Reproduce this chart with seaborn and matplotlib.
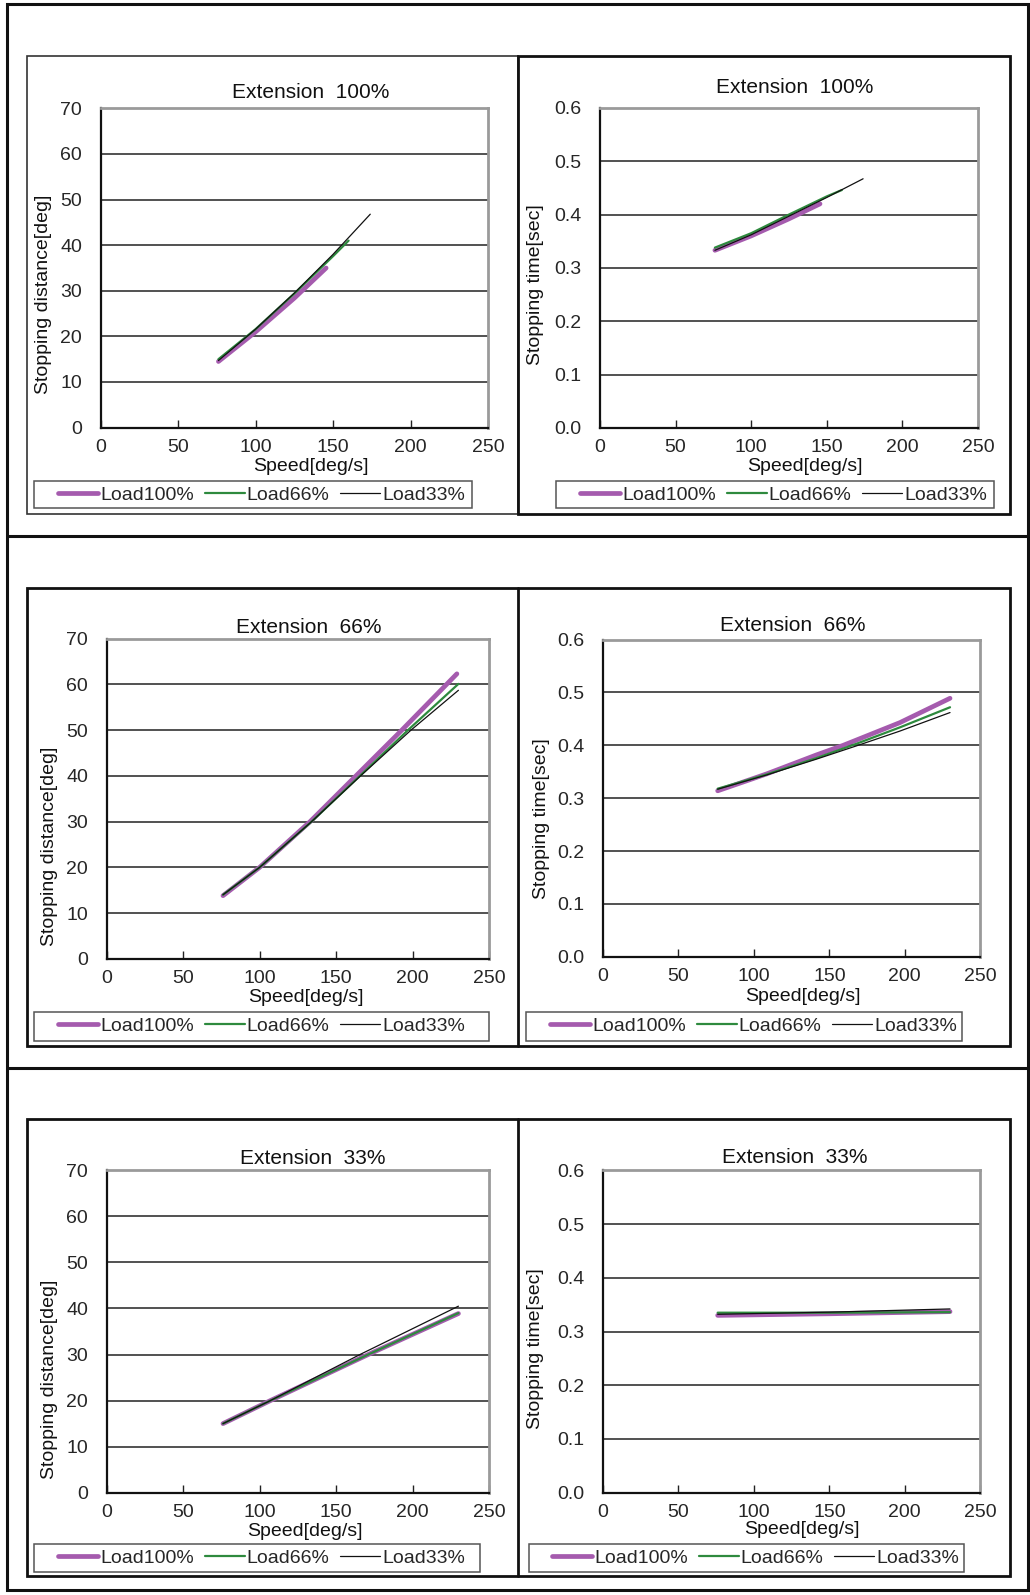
import matplotlib
matplotlib.use("Agg")
import matplotlib.pyplot as plt
import seaborn as sns
import pandas as pd
from matplotlib.patches import Rectangle
from matplotlib.lines import Line2D
from matplotlib.ticker import FormatStrFormatter

# ---------------- data ----------------
series_names = ["Load100%", "Load66%", "Load33%"]

# Extension 100% - stopping distance [deg]
e100_dist_x100 = [76, 100, 125, 145.5]
e100_dist_y100 = [14.5, 21.0, 28.4, 35.0]
e100_dist_x66 = [76, 100, 125, 150, 160]
e100_dist_y66 = [15.0, 21.6, 29.4, 37.6, 41.0]
e100_dist_x33 = [76, 100, 125, 150, 174]
e100_dist_y33 = [14.7, 21.6, 29.5, 38.0, 46.8]

# Extension 100% - stopping time [sec]
e100_time_x100 = [76, 100, 125, 145.5]
e100_time_y100 = [0.333, 0.360, 0.392, 0.420]
e100_time_x66 = [76, 100, 125, 150, 160]
e100_time_y66 = [0.338, 0.365, 0.400, 0.434, 0.446]
e100_time_x33 = [76, 100, 125, 150, 174]
e100_time_y33 = [0.333, 0.362, 0.397, 0.432, 0.467]

# Extension 66% - stopping distance [deg]
e66_dist_x100 = [76, 100, 133, 163, 193, 229]
e66_dist_y100 = [13.8, 20.0, 30.0, 40.0, 50.0, 62.3]
e66_dist_x66 = [76, 100, 134, 165.6, 197, 230]
e66_dist_y66 = [14.0, 20.0, 30.0, 40.0, 50.0, 60.1]
e66_dist_x33 = [76, 100, 134, 166, 199, 230]
e66_dist_y33 = [14.0, 20.0, 30.0, 40.0, 50.0, 58.7]

# Extension 66% - stopping time [sec]
e66_time_x100 = [76, 108.5, 141.6, 159.2, 196.8, 230]
e66_time_y100 = [0.314, 0.346, 0.382, 0.400, 0.443, 0.489]
e66_time_x66 = [76, 108.5, 141.6, 168, 196.8, 230]
e66_time_y66 = [0.318, 0.345, 0.376, 0.403, 0.434, 0.472]
e66_time_x33 = [76, 108.5, 141.6, 168, 196.8, 230]
e66_time_y33 = [0.317, 0.344, 0.374, 0.399, 0.427, 0.462]

# Extension 33% - stopping distance [deg]
e33_dist_x100 = [76, 107, 171, 230]
e33_dist_y100 = [15.0, 20.0, 30.0, 38.9]
e33_dist_x66 = [76, 107, 171, 230]
e33_dist_y66 = [15.0, 20.0, 30.0, 39.0]
e33_dist_x33 = [76, 107, 165.6, 230]
e33_dist_y33 = [15.0, 20.0, 30.0, 40.5]

# Extension 33% - stopping time [sec]
e33_time_x100 = [76, 150, 230]
e33_time_y100 = [0.330, 0.333, 0.337]
e33_time_x66 = [76, 150, 230]
e33_time_y66 = [0.335, 0.335, 0.336]
e33_time_x33 = [76, 150, 230]
e33_time_y33 = [0.332, 0.336, 0.342]

titles = ["Extension  100%", "Extension  66%", "Extension  33%"]
xlabel = "Speed[deg/s]"
ylabel_dist = "Stopping distance[deg]"
ylabel_time = "Stopping time[sec]"

# ---------------- style ----------------
sns.set_theme(style="white")
plt.rcParams["font.family"] = ["Liberation Sans", "DejaVu Sans"]
FS = 14

colors = {"Load100%": "#A55BAE", "Load66%": "#2E8A3E", "Load33%": "#111111"}
widths = {"Load100%": 3.4, "Load66%": 1.6, "Load33%": 0.9}

W, H = 1030, 1595
fig = plt.figure(figsize=(W / 100, H / 100), dpi=100)
fig.patch.set_facecolor("white")


def fx(x):
    return x / W


def fy(y):
    return 1 - y / H


def add_rect(x0, y0, x1, y1, lw, color):
    fig.add_artist(Rectangle((fx(x0), fy(y1)), fx(x1) - fx(x0), fy(y0) - fy(y1),
                             transform=fig.transFigure, fill=False, lw=lw,
                             edgecolor=color, zorder=0))


def add_line(x0, y0, x1, y1, lw, color):
    fig.add_artist(Line2D([fx(x0), fx(x1)], [fy(y0), fy(y1)],
                          transform=fig.transFigure, lw=lw, color=color, zorder=0))


# outer table and chart frames
add_rect(7, 4, 1028, 1590, 2.2, "#111111")
add_line(7, 536, 1028, 536, 2.2, "#111111")
add_line(7, 1068, 1028, 1068, 2.2, "#111111")
add_rect(26.5, 56, 517.5, 513.5, 1.2, "#333333")
add_rect(517.5, 56, 1010, 513.5, 2.0, "#111111")
add_rect(27, 588, 1010, 1046, 2.0, "#111111")
add_line(518, 588, 518, 1046, 2.0, "#111111")
add_rect(27, 1119, 1010, 1576, 2.0, "#111111")
add_line(518, 1119, 518, 1576, 2.0, "#111111")

panels = [
    dict(box=(100.7, 108.4, 488, 427.6), kind="dist", title=titles[0], tx=0.543, tdy=16,
         ylo=(-57, -26), xlab=(311, 466.7), leg=(33.5, 481, 471.8, 508.4), legx=58,
         data=[(e100_dist_x100, e100_dist_y100), (e100_dist_x66, e100_dist_y66), (e100_dist_x33, e100_dist_y33)]),
    dict(box=(600, 107.8, 978, 428), kind="time", title=titles[0], tx=0.516, tdy=20,
         ylo=(-64, -17), xlab=(805, 466.7), leg=(556, 481, 994.4, 508.4), legx=580,
         data=[(e100_time_x100, e100_time_y100), (e100_time_x66, e100_time_y66), (e100_time_x33, e100_time_y33)]),
    dict(box=(106.8, 638.6, 489, 958.8), kind="dist", title=titles[1], tx=0.529, tdy=11,
         ylo=(-57, -48), xlab=(306, 997.5), leg=(33.5, 1011.7, 489, 1041), legx=58,
         data=[(e66_dist_x100, e66_dist_y100), (e66_dist_x66, e66_dist_y66), (e66_dist_x33, e66_dist_y33)]),
    dict(box=(603, 639.6, 980.2, 956.8), kind="time", title=titles[1], tx=0.504, tdy=14,
         ylo=(-61, -20), xlab=(803, 996.5), leg=(525.7, 1011.7, 962, 1041), legx=550,
         data=[(e66_time_x100, e66_time_y100), (e66_time_x66, e66_time_y66), (e66_time_x33, e66_time_y33)]),
    dict(box=(106.8, 1170.3, 489, 1492.7), kind="dist", title=titles[2], tx=0.54, tdy=12,
         ylo=(-57, -48), xlab=(305, 1531), leg=(33.5, 1543.5, 480, 1572), legx=58,
         data=[(e33_dist_x100, e33_dist_y100), (e33_dist_x66, e33_dist_y66), (e33_dist_x33, e33_dist_y33)]),
    dict(box=(603, 1170.3, 980.2, 1492.7), kind="time", title=titles[2], tx=0.509, tdy=13,
         ylo=(-67, -17), xlab=(802, 1529), leg=(528.7, 1543.5, 964, 1572), legx=552,
         data=[(e33_time_x100, e33_time_y100), (e33_time_x66, e33_time_y66), (e33_time_x33, e33_time_y33)]),
]

for p in panels:
    x0, y0, x1, y1 = p["box"]
    ax = fig.add_axes([fx(x0), fy(y1), fx(x1) - fx(x0), fy(y0) - fy(y1)])
    ax.set_facecolor("white")
    for name, (xs, ys) in zip(series_names, p["data"]):
        df = pd.DataFrame({"speed": xs, "val": ys})
        sns.lineplot(data=df, x="speed", y="val", ax=ax, color=colors[name],
                     lw=widths[name], estimator=None, sort=False,
                     solid_capstyle="round", solid_joinstyle="round", legend=False)
    ax.set_xlim(0, 250)
    ax.set_xticks([0, 50, 100, 150, 200, 250])
    if p["kind"] == "dist":
        ax.set_ylim(0, 70)
        ax.set_yticks(range(0, 71, 10))
        ylab = ylabel_dist
    else:
        ax.set_ylim(0, 0.6)
        ax.set_yticks([0.0, 0.1, 0.2, 0.3, 0.4, 0.5, 0.6])
        ax.yaxis.set_major_formatter(FormatStrFormatter("%.1f"))
        ylab = ylabel_time
    ax.set_xlabel("")
    ax.set_ylabel("")
    ax.yaxis.grid(True, color="#333333", lw=1.2)
    ax.xaxis.grid(False)
    ax.tick_params(axis="x", direction="in", length=6, width=1, color="#222222",
                   labelsize=FS, pad=8, bottom=True)
    ax.tick_params(axis="y", length=0, labelsize=FS, pad=13.5)
    for s in ["top", "right"]:
        ax.spines[s].set_color("#9a9a9a")
        ax.spines[s].set_linewidth(2.0)
    for s in ["left", "bottom"]:
        ax.spines[s].set_color("#111111")
        ax.spines[s].set_linewidth(1.6)
    ax.annotate(p["title"], xy=(p["tx"], 1), xycoords="axes fraction",
                xytext=(0, p["tdy"]), textcoords="offset pixels",
                ha="center", va="center", fontsize=FS + 1, color="#111111")
    ax.annotate(ylab, xy=(0, 0.5), xycoords="axes fraction",
                xytext=p["ylo"], textcoords="offset pixels", rotation=90,
                ha="center", va="center", fontsize=FS, color="#111111")
    fig.text(fx(p["xlab"][0]), fy(p["xlab"][1]), xlabel, ha="center", va="center",
             fontsize=FS, color="#111111")
    lx0, ly0, lx1, ly1 = p["leg"]
    add_rect(lx0, ly0, lx1, ly1, 1.1, "#555555")
    handles = [Line2D([], [], color=colors[n], lw=widths[n], solid_capstyle="round")
               for n in series_names]
    fig.legend(handles, series_names, loc="center left",
               bbox_to_anchor=(fx(p["legx"]), fy((ly0 + ly1) / 2)),
               ncol=3, frameon=False, fontsize=FS, handlelength=2.05,
               handletextpad=0.12, columnspacing=0.55, borderpad=0,
               borderaxespad=0)

fig.savefig("out.png", dpi=100, facecolor="white")
